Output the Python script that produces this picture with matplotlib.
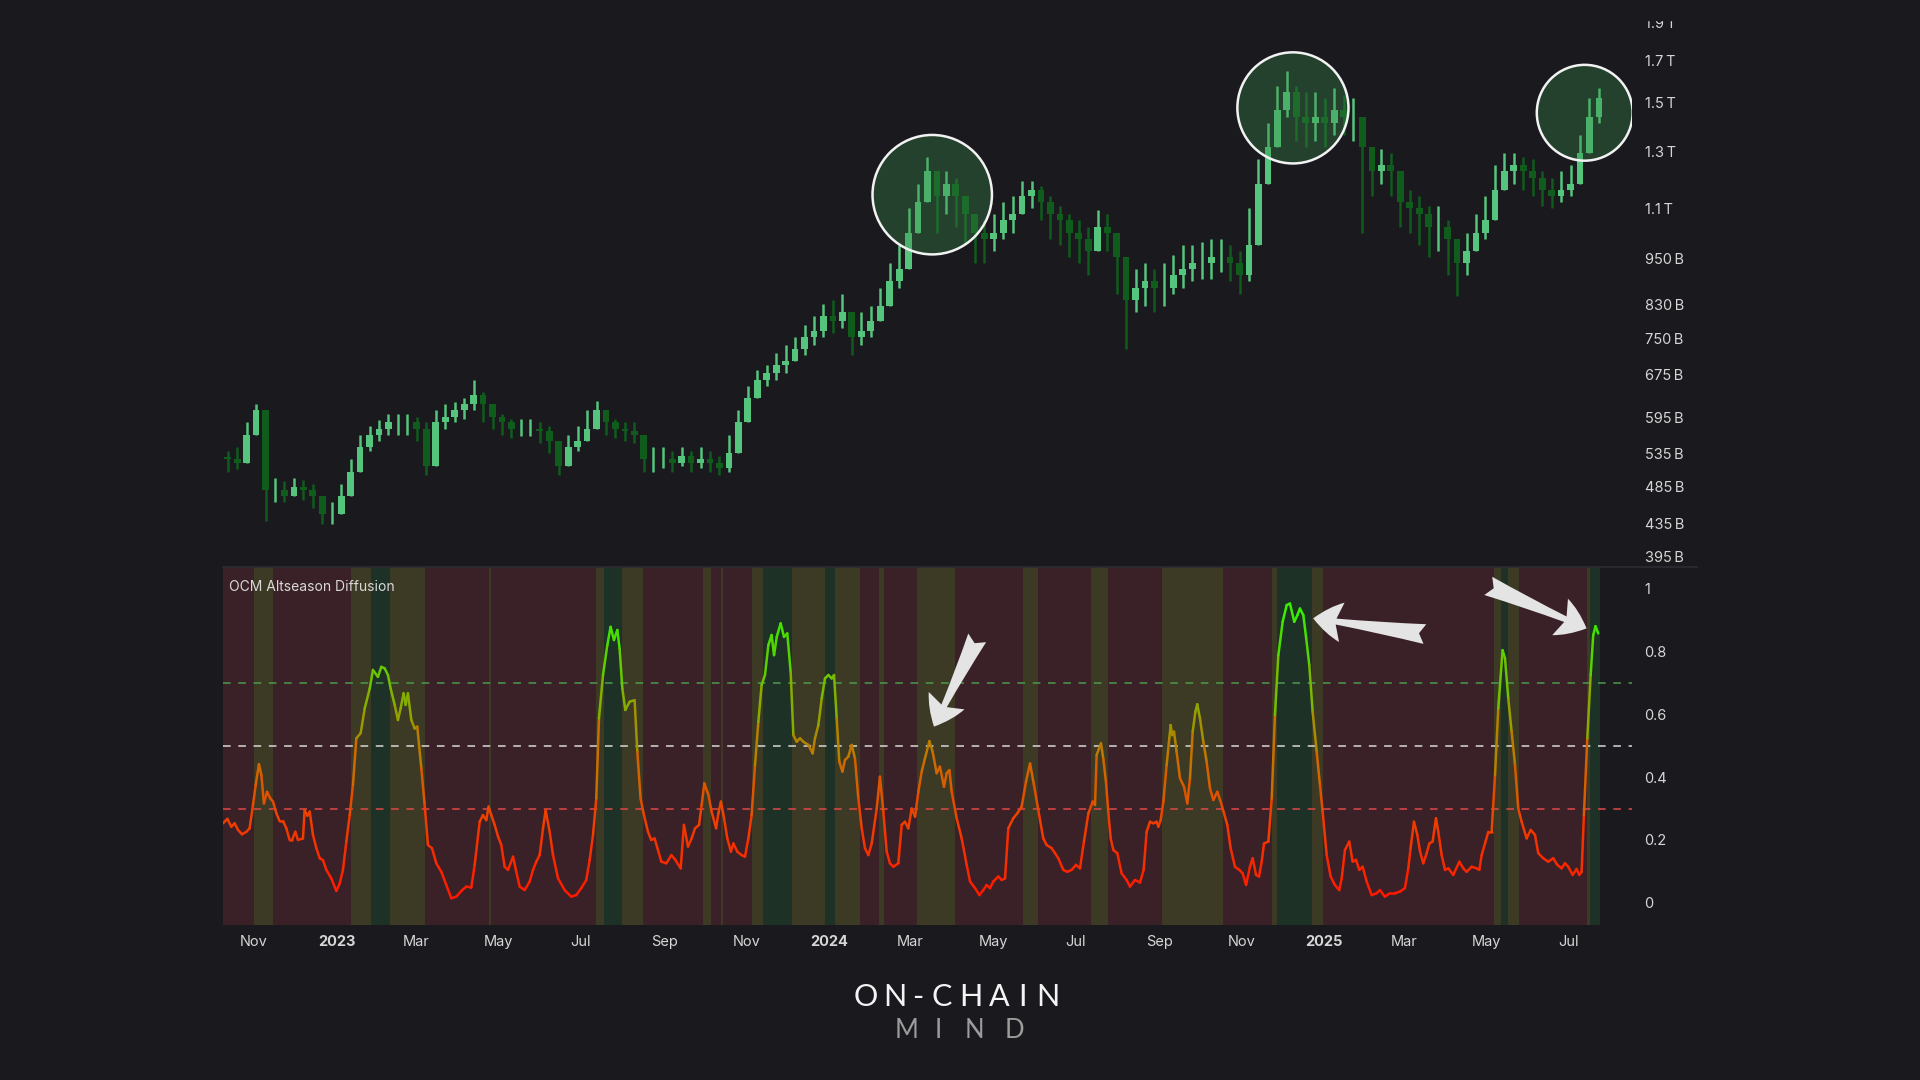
import numpy as np
import pandas as pd
import matplotlib
matplotlib.use("Agg")
import matplotlib.pyplot as plt
import matplotlib.dates as mdates
from matplotlib.collections import LineCollection
from matplotlib.colors import LinearSegmentedColormap
from matplotlib.patches import Rectangle
from matplotlib.lines import Line2D

BG = "#19191e"
START = pd.Timestamp("2022-10-09")  # left edge of both panels

# ---- market cap (weekly candles, billions USD) ----
cap_first_open = 530
cap_close = [
    526, 520, 565, 607, 480, 480, 472, 484, 480, 472, 447, 447, 472, 507, 545, 565,
    575, 586, 586, 586, 575, 516, 586, 596, 607, 618, 636, 618, 596, 586, 575, 575,
    575, 571, 555, 516, 545, 555, 575, 607, 586, 575, 571, 565, 526, 526, 526, 520,
    531, 520, 526, 520, 513, 535, 586, 630, 664, 677, 694, 701, 727, 754, 767, 801,
    790, 810, 754, 767, 790, 825, 887, 919, 1024, 1120, 1226, 1141, 1182, 1141, 1081, 1024,
    1006, 1024, 1062, 1081, 1141, 1161, 1120, 1081, 1062, 1024, 1006, 970, 1042, 1024, 953, 840,
    871, 887, 871, 871, 903, 919, 936, 936, 953, 953, 936, 903, 988, 1182, 1317, 1467,
    1549, 1441, 1415, 1441, 1415, 1467, 1441, 1441, 1317, 1226, 1248, 1226, 1120, 1101, 1081, 1042,
    1042, 1006, 936, 970, 1024, 1062, 1161, 1226, 1248, 1226, 1204, 1161, 1141, 1161, 1182, 1294,
    1441, 1521,
]
cap_high = [
    539, 545, 586, 618, 586, 498, 493, 498, 495, 489, 464, 464, 489, 526, 565, 579,
    590, 601, 601, 601, 596, 586, 607, 618, 623, 630, 664, 641, 618, 601, 592, 592,
    592, 586, 579, 555, 565, 579, 607, 625, 607, 592, 586, 586, 555, 545, 545, 539,
    545, 539, 545, 539, 531, 565, 607, 653, 684, 694, 719, 735, 754, 781, 801, 831,
    840, 855, 796, 810, 825, 871, 936, 988, 1101, 1182, 1280, 1226, 1226, 1204, 1141, 1081,
    1062, 1081, 1120, 1141, 1191, 1191, 1174, 1141, 1108, 1081, 1062, 1042, 1093, 1081, 1006, 903,
    919, 936, 919, 936, 960, 988, 988, 995, 1006, 1006, 988, 970, 1101, 1270, 1415, 1577,
    1646, 1577, 1549, 1549, 1521, 1566, 1533, 1521, 1441, 1294, 1308, 1294, 1182, 1161, 1141, 1108,
    1108, 1062, 1006, 1024, 1081, 1141, 1248, 1294, 1294, 1280, 1270, 1226, 1204, 1226, 1248, 1365,
    1521, 1566,
]
cap_low = [
    507, 511, 526, 575, 439, 464, 464, 472, 467, 455, 434, 434, 447, 480, 516, 539,
    555, 565, 565, 565, 555, 502, 545, 575, 586, 592, 607, 586, 575, 565, 559, 563,
    563, 551, 535, 502, 526, 539, 555, 586, 565, 559, 555, 551, 507, 507, 513, 507,
    516, 507, 513, 507, 502, 507, 555, 596, 630, 653, 664, 677, 701, 714, 735, 754,
    762, 773, 714, 735, 754, 790, 840, 871, 953, 1042, 1120, 1024, 1081, 1042, 988, 936,
    936, 970, 1006, 1024, 1081, 1101, 1062, 1006, 988, 953, 936, 903, 988, 970, 855, 727,
    810, 825, 810, 825, 855, 871, 887, 893, 893, 912, 887, 855, 887, 1062, 1226, 1365,
    1441, 1341, 1317, 1341, 1317, 1365, 1365, 1341, 1024, 1141, 1182, 1141, 1042, 1024, 988, 953,
    970, 903, 849, 903, 970, 1006, 1101, 1161, 1182, 1161, 1141, 1108, 1101, 1120, 1141, 1204,
    1317, 1415,
]
cap_ticks = [395, 435, 485, 535, 595, 675, 750, 830, 950, 1100, 1300, 1500, 1700, 1900]

# highlighted tops (date, cap in billions)
circle_dates = ["2024-03-17", "2024-12-09", "2025-07-13"]
circle_caps = [1145, 1478, 1457]

# ---- OCM Altseason Diffusion (days since START, value) ----
diff_day = [
    0, 3.2, 6.2, 8.6, 11.1, 14.1, 17.3, 19.7, 22.2, 24.2, 26.6, 28.4, 30.3, 32.6, 35.0, 37.0,
    39.5, 41.9, 44.4, 46.9, 49.3, 51.1, 53.5, 55.5, 59.2, 60.4, 62.4, 64.2, 66.6, 69.1, 71.6, 74.0,
    76.5, 80.2, 83.9, 86.4, 88.8, 91.3, 93.8, 96.2, 98.7, 101.9, 104.9, 108.6, 111.0, 114.7, 117.2, 119.7,
    122.1, 124.1, 127.1, 129.5, 131.5, 133.7, 135.2, 136.9, 139.4, 141.9, 143.8, 146.8, 149.3, 151.7, 154.7, 157.9,
    161.6, 165.3, 169.0, 172.7, 176.4, 180.1, 183.8, 186.3, 190.0, 192.4, 194.9, 196.6, 198.6, 201.1, 203.6, 206.0,
    208.5, 211.0, 214.7, 217.1, 219.6, 223.3, 227.0, 229.5, 231.9, 234.4, 236.9, 238.8, 241.8, 244.3, 248.0, 252.9,
    257.8, 261.5, 265.2, 268.9, 271.4, 273.9, 276.3, 278.3, 281.3, 284.5, 286.9, 289.4, 291.9, 293.6, 295.6, 297.8,
    301.0, 304.7, 306.7, 309.1, 311.6, 314.6, 317.0, 319.5, 322.0, 324.5, 328.2, 331.9, 334.8, 338.8, 341.2, 344.2,
    346.9, 349.4, 352.4, 354.3, 356.3, 359.3, 361.7, 365.0, 366.7, 368.6, 370.9, 373.3, 376.0, 377.8, 380.7, 383.9,
    386.4, 388.9, 391.3, 393.8, 396.3, 398.7, 401.2, 403.7, 406.1, 407.9, 409.9, 412.8, 415.3, 417.7, 420.2, 422.2,
    424.7, 427.1, 429.6, 433.3, 436.5, 438.2, 440.7, 443.2, 445.6, 448.1, 450.6, 452.3, 454.3, 456.2, 458.5, 460.4,
    462.9, 465.4, 467.8, 470.3, 472.8, 475.2, 477.7, 480.2, 483.9, 486.3, 488.8, 491.3, 493.7, 496.2, 499.9, 502.4,
    504.8, 507.3, 509.8, 512.3, 514.7, 517.2, 519.6, 522.9, 525.3, 528.3, 530.7, 533.7, 535.7, 537.7, 539.4, 543.1,
    546.8, 550.5, 553.0, 556.7, 559.9, 562.8, 565.3, 567.8, 570.2, 573.9, 576.4, 578.9, 581.3, 585.0, 588.0, 591.2,
    594.4, 597.4, 600.3, 603.5, 607.2, 609.7, 613.4, 615.9, 618.3, 622.0, 625.0, 628.2, 631.4, 634.4, 637.3, 640.6,
    643.8, 645.5, 646.7, 649.9, 651.6, 653.6, 655.3, 657.1, 659.1, 662.0, 665.2, 668.9, 671.4, 675.1, 678.8, 681.5,
    683.7, 686.2, 688.7, 691.1, 692.4, 694.1, 696.1, 698.5, 700.5, 701.5, 702.7, 704.0, 705.9, 708.4, 711.4, 713.8,
    715.8, 717.8, 719.8, 721.2, 723.2, 725.7, 728.1, 730.6, 733.1, 736.0, 738.5, 741.0, 743.4, 745.9, 749.1, 752.3,
    754.8, 757.3, 760.2, 762.2, 764.7, 766.9, 768.9, 770.6, 773.8, 776.3, 778.7, 781.2, 784.4, 787.4, 789.8, 793.0,
    795.3, 797.2, 799.7, 801.7, 804.1, 806.6, 809.6, 812.0, 814.0, 817.0, 819.9, 823.1, 826.3, 828.1, 830.5, 833.7,
    836.2, 838.7, 841.1, 843.6, 846.6, 850.3, 854.0, 856.4, 860.1, 863.8, 867.5, 871.2, 874.9, 877.4, 879.1, 881.6,
    884.1, 886.1, 888.5, 891.0, 893.0, 895.4, 897.9, 899.6, 902.1, 904.6, 907.0, 910.7, 915.2, 918.1, 920.6, 924.3,
    928.0, 930.0, 931.7, 934.2, 936.6, 939.1, 941.6, 944.0, 947.2, 949.0, 951.4, 953.9, 956.4, 958.8, 961.3, 965.0,
    968.0, 971.2, 973.6, 977.3, 981.0, 984.7, 987.7, 990.9, 993.4, 995.8, 999.1, 1002.0, 1004.0, 1005.7, 1007.4, 1009.9,
    1012.4, 1014.3, 1016.0, 1018.0,
]
diff_val = [
    .253, .267, .242, .253, .232, .218, .226, .237, .311, .375, .441, .406, .316, .353, .332, .322,
    .285, .260, .260, .237, .200, .200, .226, .200, .205, .295, .277, .290, .216, .174, .142, .136,
    .105, .078, .038, .062, .105, .195, .279, .375, .523, .539, .618, .681, .740, .718, .750, .745,
    .724, .681, .629, .581, .618, .666, .629, .666, .581, .554, .560, .428, .311, .184, .174, .126,
    .099, .057, .015, .020, .038, .052, .049, .121, .258, .279, .263, .306, .279, .248, .211, .184,
    .115, .105, .147, .099, .052, .041, .068, .105, .131, .152, .237, .295, .226, .152, .078, .041,
    .020, .025, .047, .073, .136, .216, .332, .586, .724, .819, .877, .835, .867, .808, .681, .613,
    .639, .644, .480, .332, .279, .226, .200, .205, .168, .131, .126, .152, .137, .110, .248, .179,
    .205, .237, .248, .311, .380, .343, .290, .237, .285, .322, .269, .205, .163, .189, .163, .152,
    .147, .205, .279, .438, .576, .692, .724, .819, .851, .787, .845, .888, .845, .856, .734, .533,
    .512, .523, .512, .502, .475, .523, .565, .650, .713, .724, .713, .724, .586, .449, .417, .454,
    .465, .502, .459, .332, .237, .174, .152, .189, .300, .401, .290, .163, .126, .115, .126, .248,
    .258, .237, .300, .274, .353, .417, .459, .514, .480, .412, .433, .369, .412, .422, .353, .269,
    .205, .121, .068, .047, .025, .041, .057, .047, .068, .084, .073, .078, .237, .269, .285, .306,
    .385, .443, .375, .295, .205, .184, .174, .158, .142, .105, .099, .105, .121, .110, .195, .285,
    .322, .311, .470, .507, .459, .385, .290, .205, .168, .158, .094, .073, .052, .073, .065, .105,
    .226, .258, .253, .258, .242, .263, .322, .438, .523, .565, .533, .544, .480, .396, .369, .316,
    .396, .544, .607, .631, .586, .512, .449, .364, .327, .353, .322, .285, .248, .174, .115, .105,
    .094, .057, .115, .142, .089, .084, .131, .189, .195, .332, .597, .787, .893, .946, .951, .893,
    .914, .935, .914, .845, .756, .607, .480, .375, .290, .152, .084, .057, .041, .078, .168, .195,
    .131, .137, .105, .115, .068, .025, .031, .041, .020, .031, .031, .036, .047, .110, .174, .258,
    .216, .163, .126, .158, .189, .195, .269, .226, .152, .105, .110, .089, .131, .110, .099, .115,
    .110, .105, .152, .189, .226, .226, .406, .618, .803, .777, .650, .544, .438, .300, .258, .205,
    .232, .216, .158, .142, .131, .142, .121, .110, .126, .115, .089, .108, .089, .099, .279, .523,
    .724, .851, .879, .856,
]

# regime bands behind the diffusion line (edges in days since START)
band_edges = [
    0, 22.7, 37.0, 94.5, 109.8, 123.6, 149.3, 196.6, 198.6, 276.3, 281.7, 295.3, 311.1, 355.1,
    361.2, 368.4, 370.4, 391.6, 400.0, 421.4, 445.9, 453.0, 471.5, 485.3, 489.3, 513.5, 541.9,
    592.4, 603.5, 642.3, 655.3, 695.3, 740.0, 776.3, 780.5, 806.4, 814.0, 940.8, 946.0, 951.4,
    959.3, 1009.4, 1011.9, 1019.3,
]
band_kind = ["r", "y", "r", "y", "g", "y", "r", "y", "r", "y", "g", "y", "r", "y", "r", "y",
             "r", "y", "g", "y", "g", "y", "r", "y", "r", "y", "r", "y", "r", "y", "r", "y",
             "r", "y", "g", "y", "r", "y", "g", "y", "r", "y", "g"]

tick_dates = ["2022-11-01", "2023-01-01", "2023-03-01", "2023-05-01", "2023-07-01", "2023-09-01",
              "2023-11-01", "2024-01-01", "2024-03-01", "2024-05-01", "2024-07-01", "2024-09-01",
              "2024-11-01", "2025-01-01", "2025-03-01", "2025-05-01", "2025-07-01"]
tick_labels = ["Nov", "2023", "Mar", "May", "Jul", "Sep", "Nov", "2024", "Mar", "May", "Jul",
               "Sep", "Nov", "2025", "Mar", "May", "Jul"]

# ---------------------------------------------------------------------------
plt.rcParams["font.family"] = ["Inter", "DejaVu Sans"]
fig = plt.figure(figsize=(19.2, 10.8), dpi=100, facecolor=BG)

W, H = 1920.0, 1080.0
left, right = 223 / W, 1632 / W
ax_top = fig.add_axes([left, (H - 567) / H, right - left, 567 / H])
ax_bot = fig.add_axes([left, (H - 925) / H, right - left, (925 - 567) / H], sharex=ax_top)
for ax in (ax_top, ax_bot):
    ax.set_facecolor(BG)
    for s in ax.spines.values():
        s.set_visible(False)
    ax.yaxis.tick_right()
    ax.tick_params(axis="y", length=0, pad=9, labelcolor="#d6d6d6", labelsize=10.5)
    ax.tick_params(axis="x", length=0)

x0 = mdates.date2num(START)
ax_top.set_xlim(x0, x0 + 1043)

# candles
n = len(cap_close)
wk = x0 + np.arange(n) * 7 + 3.5
opens = np.array([cap_first_open] + cap_close[:-1], dtype=float)
closes = np.array(cap_close, dtype=float)
up = closes >= opens
body_lo = np.minimum(opens, closes)
body_hi = np.maximum(opens, closes)
wick_lo = np.minimum(cap_low, body_lo)
wick_hi = np.maximum(cap_high, body_hi)
cols = np.where(up, "#55c47c", "#0f5c1d")
ax_top.vlines(wk, wick_lo, wick_hi, colors=cols, lw=1.8)
ax_top.bar(wk, body_hi - body_lo, bottom=body_lo, width=5.0, color=cols, linewidth=0)
ax_top.set_yscale("log")
ax_top.set_ylim(383, 2030)
ax_top.yaxis.set_major_locator(matplotlib.ticker.FixedLocator(cap_ticks))
ax_top.yaxis.set_minor_locator(matplotlib.ticker.NullLocator())
ax_top.set_yticklabels([f"{v}\u2009B" if v < 1000 else f"{v/1000:.1f}\u2009T" for v in cap_ticks])
ax_top.tick_params(axis="x", labelbottom=False)

# highlight circles
cx = mdates.date2num(pd.to_datetime(circle_dates))
ax_top.scatter(cx, circle_caps, s=[86 ** 2, 80 ** 2, 69 ** 2], facecolor=(0.23, 0.55, 0.29, 0.35),
               edgecolor="#f2f2f2", linewidth=1.8, zorder=5)

# bands
band_col = {"r": "#3a2027", "y": "#3c3a25", "g": "#1e3127"}
for i, k in enumerate(band_kind):
    ax_bot.axvspan(x0 + band_edges[i], x0 + band_edges[i + 1], color=band_col[k], lw=0, zorder=0)

# gradient line
cmap = LinearSegmentedColormap.from_list("alt", [
    (0.0, "#ff1500"), (0.25, "#f03c00"), (0.45, "#cc6c00"), (0.55, "#a49000"),
    (0.7, "#72c000"), (0.88, "#3ee600"), (1.0, "#30ff00")])
xd = x0 + np.array(diff_day)
yv = np.array(diff_val)
pts = np.column_stack([xd, yv]).reshape(-1, 1, 2)
segs = np.concatenate([pts[:-1], pts[1:]], axis=1)
lc = LineCollection(segs, cmap=cmap, norm=plt.Normalize(0, 1), linewidth=1.8, zorder=3,
                    capstyle="round", joinstyle="round")
lc.set_array((yv[:-1] + yv[1:]) / 2)
ax_bot.add_collection(lc)

for lvl, c in [(0.7, "#4c9a4c"), (0.5, "#d8d8d8"), (0.3, "#e04848")]:
    ax_bot.axhline(lvl, color=c, lw=1.1, ls=(0, (5, 5)), zorder=2)

ax_bot.set_ylim(-0.07, 1.067)
ax_bot.set_yticks([0, 0.2, 0.4, 0.6, 0.8, 1])
ax_bot.set_yticklabels(["0", "0.2", "0.4", "0.6", "0.8", "1"])
ax_bot.set_xticks(mdates.date2num(pd.to_datetime(tick_dates)))
ax_bot.set_xticklabels(tick_labels)
ax_bot.tick_params(axis="x", pad=7, labelcolor="#d6d6d6", labelsize=10.5)
for t in ax_bot.get_xticklabels():
    if t.get_text().isdigit():
        t.set_fontweight("bold")
ax_bot.text(0.004, 0.944, "OCM Altseason Diffusion", transform=ax_bot.transAxes,
            color="#d8d8d8", fontsize=10, va="center", ha="left")

# arrows pointing at the peaks (days since START, value)
arrows = [((558.3, 0.842), (526.3, 0.560)), ((889.7, 0.854), (807.0, 0.904)),
          ((936.6, 1.007), (1009.4, 0.872))]
for (tx, ty), (hx, hy) in arrows:
    ax_bot.annotate("", xy=(x0 + hx, hy), xytext=(x0 + tx, ty),
                    arrowprops=dict(arrowstyle="fancy,head_length=0.8,head_width=1.1,tail_width=0.55",
                                    color="#e4e4e4", lw=0, mutation_scale=26, shrinkA=0, shrinkB=0),
                    zorder=6)

# divider between panels
fig.add_artist(Line2D([223 / W, 1697 / W], [(H - 567) / H] * 2, color="#2c2c32", lw=1.2))
# top of the price scale is cut off in the original
fig.add_artist(Rectangle((0, 1 - 20 / H), 1, 20 / H, transform=fig.transFigure,
                         color=BG, zorder=20))

# logo, letter-spaced
for ch, px in zip("ON-CHAIN", [866, 895, 918, 942, 971, 999, 1022, 1048]):
    fig.text(px / W, 1 - 997 / H, ch, ha="center", va="center", color="#f4f4f4",
             fontsize=22, family=["Lato", "DejaVu Sans"])
for ch, px in zip("MIND", [907, 938, 974, 1014]):
    fig.text(px / W, 1 - 1031 / H, ch, ha="center", va="center", color="#9c9c9c",
             fontsize=18.5, family=["Lato", "DejaVu Sans"])

fig.savefig("out.png", dpi=100, facecolor=BG)
